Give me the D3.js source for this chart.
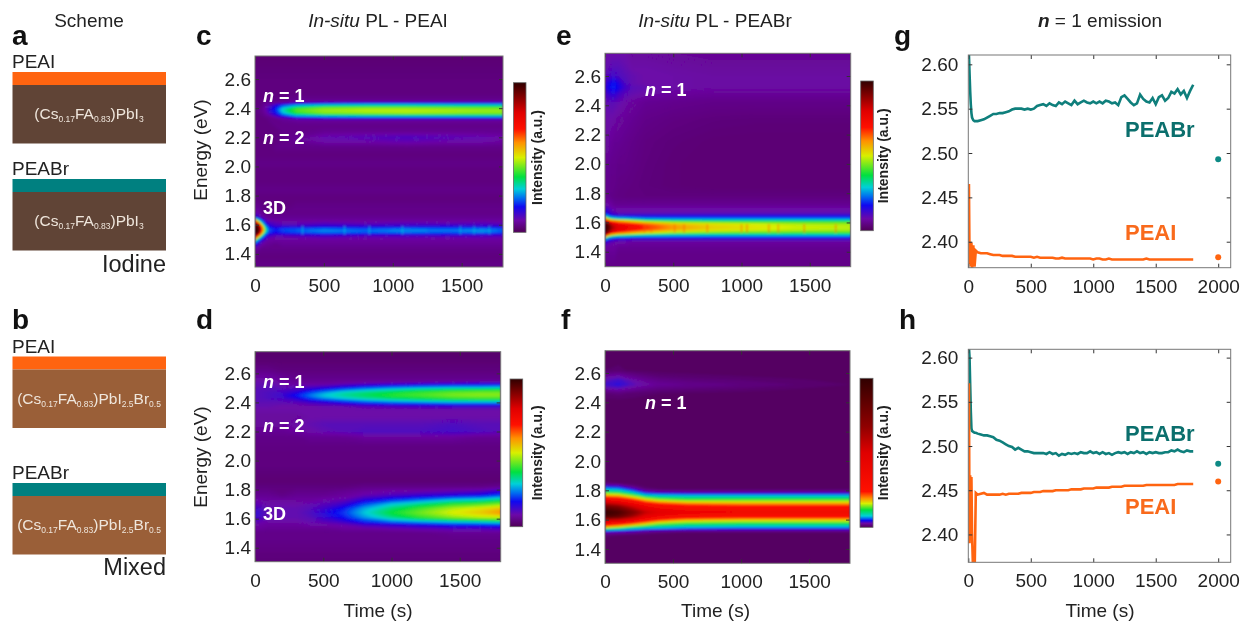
<!DOCTYPE html>
<html>
<head>
<meta charset="utf-8">
<script src="https://cdn.jsdelivr.net/npm/d3@7"></script>
<style>
  html, body { margin: 0; padding: 0; background: #fff; }
  svg { display: block; filter: blur(0.35px); }
  text { font-family: "Liberation Sans", Arial, sans-serif; fill: #222; }
</style>
</head>
<body>
<div id="chart"></div>
<script>
// colour bar positions (percent of bar height) and colours
var barColors = ["#500056","#6c08a8","#1008f0","#0070f0","#00d0d8","#00e040","#d8f000","#ff9000","#ff1000","#e00000","#900000","#300000"];
var barPos  = [0,8,17,23,29,37,50,60,69,80,89,100];
var barPosF = [0,2.7,4.5,6,7.6,11.6,16,19.5,24,50,67.5,100];

// panel c, PEAI on iodine: rows go top to bottom in energy
var cTime = [0,25,50,75,100,150,200,300,500,800,1100,1400,1650,1800];
var cEnergy = [2.76,2.60,2.50,2.45,2.435,2.42,2.40,2.385,2.365,2.35,2.335,2.32,2.28,2.24,2.20,2.17,2.13,2.08,2.02,1.96,1.90,1.84,1.78,1.72,1.68,1.65,1.63,1.61,1.59,1.57,1.55,1.53,1.51,1.49,1.46,1.43,1.38,1.32,1.30];
var cGrid = [
  [3,3,3,3,3,3,3,3,3,3,3,3,3,3],
  [4,4,4,4,4,4,4,4,4,4,4,4,4,4],
  [4,4,4,4,4,4,4,4,4,4,4,4,4,4],
  [4,4,4,5,5,5,5,6,6,6,6,6,6,6],
  [4,4,5,6,6,7,8,11,14,15,15,15,15,15],
  [4,4,5,7,9,14,20,26,30,32,32,31,31,31],
  [4,5,6,8,11,18,29,40,45,46,46,45,44,44],
  [4,5,6,8,12,19,31,43,47,49,49,48,47,47],
  [4,5,5,7,10,16,27,39,45,46,47,46,45,45],
  [4,4,5,6,7,12,18,28,31,33,33,33,33,33],
  [4,4,4,5,5,7,9,14,17,18,18,18,18,18],
  [4,4,4,4,5,5,6,7,7,7,7,7,7,7],
  [4,4,4,4,4,5,5,5,5,5,5,5,5,5],
  [4,4,4,4,4,4,5,5,6,6,6,6,6,6],
  [4,4,4,4,4,4,5,6,9,10,11,10,9,8],
  [4,4,4,4,4,4,5,6,8,8,9,8,8,7],
  [4,4,4,4,4,5,5,5,5,5,5,5,5,5],
  [4,4,4,4,4,4,4,4,4,4,4,4,4,4],
  [5,5,5,5,5,5,5,5,5,5,5,5,5,5],
  [4,4,4,4,4,4,4,4,4,4,4,4,4,4],
  [4,4,4,4,4,4,4,4,4,4,4,4,4,4],
  [5,5,5,5,5,5,5,5,5,5,5,5,5,5],
  [4,4,4,4,4,4,4,4,4,4,4,4,4,4],
  [6,6,5,4,4,4,4,5,5,5,5,5,5,5],
  [9,8,6,5,5,5,5,5,5,5,5,5,5,5],
  [16,13,9,7,6,6,6,6,6,6,6,6,6,6],
  [60,35,20,11,8,7,7,7,7,7,7,7,7,7],
  [92,70,35,16,12,10,9,9,10,9,10,9,10,9],
  [100,95,60,28,16,12,12,12,14,13,13,14,13,13],
  [100,100,70,38,22,18,21,22,24,22,25,23,25,22],
  [100,98,65,34,21,17,20,22,25,23,25,23,26,22],
  [96,75,40,20,13,11,11,12,13,12,12,13,12,12],
  [70,40,22,13,9,8,8,8,9,8,9,8,9,8],
  [35,20,12,9,7,7,7,7,7,7,7,7,7,7],
  [14,10,7,6,6,5,6,6,6,6,6,6,6,6],
  [6,6,5,5,5,5,5,5,5,5,5,5,5,5],
  [4,4,4,4,4,4,4,4,4,4,4,4,4,4],
  [5,5,5,5,5,5,5,5,5,5,5,5,5,5],
  [3,3,3,3,3,3,3,3,3,3,3,3,3,3]
];
var cStreaks = [345,650,830,1070,1490,1590,1700];

// panel d, PEAI on mixed
var dTime = [0,100,200,300,400,500,650,800,1000,1200,1450,1650,1800];
var dEnergy = [2.76,2.68,2.62,2.58,2.55,2.53,2.51,2.49,2.47,2.45,2.43,2.41,2.39,2.375,2.35,2.30,2.25,2.20,2.16,2.10,2.03,1.95,1.86,1.82,1.79,1.76,1.73,1.70,1.67,1.64,1.61,1.58,1.56,1.53,1.50,1.45,1.40,1.36,1.30];
var dGrid = [
  [2,2,2,2,2,2,2,2,2,2,2,2,2],
  [3,3,3,3,3,3,3,3,3,3,3,3,3],
  [5,5,4,4,4,4,4,4,4,4,4,4,4],
  [7,7,6,5,5,5,5,5,5,5,5,5,5],
  [8,8,7,6,6,6,6,6,6,6,6,6,6],
  [9,9,8,7,7,7,8,9,10,11,12,13,13],
  [9,10,9,9,10,11,14,17,20,22,24,24,25],
  [10,10,10,11,14,17,22,26,30,33,35,36,37],
  [10,11,12,14,20,25,31,34,37,40,43,44,44],
  [10,11,13,18,24,29,33,36,40,42,45,46,46],
  [10,11,12,15,21,26,30,33,36,38,41,42,42],
  [10,10,10,11,14,16,21,25,28,30,32,32,32],
  [9,9,9,9,10,11,13,16,18,19,20,20,20],
  [9,9,8,8,8,9,9,10,11,12,13,13,13],
  [8,8,8,8,8,8,8,8,8,8,8,8,8],
  [7,7,7,7,8,8,8,8,8,8,8,8,8],
  [7,7,7,8,9,10,10,10,10,10,11,10,10],
  [6,6,6,7,8,9,10,11,11,11,12,11,10],
  [5,5,5,5,6,6,6,7,7,7,7,6,6],
  [4.5,4.5,4.5,4.5,4.5,4.5,4.5,4.5,4.5,4.5,4.5,4.5,4.5],
  [4,4,4,4,4,4,4,4,4,4,4,4,4],
  [4,4,4,4,4,4,4,4,4,4,4,4,4],
  [3,3,3,3,3,3,3,3,3,3,3,3,3],
  [4,4,4,4,4,4,4,5,5,5,5,5,6],
  [5,5,4,5,5,5,6,7,8,8,9,10,13],
  [6,6,5,6,6,6,7,9,11,13,15,17,21],
  [8,7,7,7,7,8,9,14,19,23,29,31,35],
  [10,8,8,8,9,10,13,21,29,34,40,42,45],
  [12,9,9,9,10,12,18,27,35,41,48,52,56],
  [14,9,9,9,11,14,20,29,38,44,51,55,60],
  [13,9,9,9,10,13,18,26,34,40,46,49,50],
  [10,8,8,8,9,10,13,19,24,27,30,32,34],
  [8,7,7,7,8,8,9,12,14,16,19,20,21],
  [7,6,6,6,6,6,7,7,8,9,10,10,11],
  [5,5,5,5,5,5,5,5,5,5,6,6,6],
  [5,5,5,5,5,5,5,5,5,5,5,5,5],
  [4.5,4.5,4.5,4.5,4.5,4.5,4.5,4.5,4.5,4.5,4.5,4.5,4.5],
  [4,4,4,4,4,4,4,4,4,4,4,4,4],
  [3.5,3.5,3.5,3.5,3.5,3.5,3.5,3.5,3.5,3.5,3.5,3.5,3.5]
];

// panel e, PEABr on iodine
var eTime = [0,25,50,75,100,150,200,300,500,800,1100,1400,1800];
var eEnergy = [2.76,2.66,2.60,2.55,2.52,2.48,2.42,2.30,2.15,2.00,1.85,1.78,1.72,1.69,1.665,1.645,1.625,1.61,1.59,1.57,1.55,1.53,1.515,1.50,1.485,1.465,1.43,1.38,1.30];
var eGrid = [
  [8,8,8,8,8,8,7,7,6.5,6,6,6,6],
  [9,9,10,10,10,9,8,8,7.5,7,7,7,7],
  [10,11,12,12,11,10,9,8,8,7.5,7.5,7.5,7.5],
  [12,15,17,17,15,11,9,8,8,7.5,7.5,7.5,7.5],
  [13,16,18,18,16,12,10,9,8,7.5,7.5,7.5,7.5],
  [11,13,14,14,12,10,9,8,7,6.5,6.5,6.5,6.5],
  [9,9.5,10,9.5,9,8,7,6,5.5,5,5,5,5],
  [8,8,8,7.5,7,6.5,6,5,4.3,3.8,3.6,3.6,3.6],
  [7,7,6.5,6,6,5.5,5,4.2,3.6,3.1,3,3,3],
  [6,6,5.5,5.5,5,5,4.6,4,3.3,3,3,3,3],
  [5.5,5.5,5,5,4.6,4.4,4.2,3.8,3.3,3,3,3,3],
  [5.5,5.5,5,4.6,4.4,4.2,4.1,4,4,4,4,4,4],
  [8,8,7,6,6,6,6,6,6,6,6,6,6],
  [13,11,9,8,8,8,8,8,8,8,8,8,8],
  [18,14,11,10,9,9,9,9,9,9,9,9,9],
  [30,22,17,16,15,15,15,15,15,15,15,15,15],
  [60,45,36,33,31,30,28,25,24,24,24,24,24],
  [85,72,64,62,58,55,50,42,38,36,36,36,36],
  [100,92,82,78,75,73,70,64,56,52,50,48,47],
  [100,97,88,83,80,77,74,68,60,54,52,50,49],
  [100,95,86,81,78,75,72,66,58,53,51,49,48],
  [100,86,74,70,66,62,58,52,46,43,42,41,41],
  [80,60,48,44,40,38,36,32,30,30,30,30,30],
  [50,32,27,24,22,22,20,20,20,19,19,19,19],
  [28,18,15,13,12,12,11,11,11,11,11,11,11],
  [14,10,9,8,8,8,7,7,7,7,7,7,7],
  [8,7,7,7,6,6,6,6,6,6,6,6,6],
  [6,6,6,6,5,5,5,5,5,5,5,5,5],
  [5,5,5,5,5,5,5,5,5,5,5,5,5]
];
var eStreaks = [290,340,510,580,750,1000,1040,1200,1270,1460,1690];

// panel f, PEABr on mixed (its colour bar is stretched, so low values carry decimals)
var fTime = [0,100,200,300,400,600,1000,1400,1800];
var fEnergy = [2.76,2.62,2.58,2.55,2.52,2.49,2.46,2.40,2.10,1.90,1.85,1.83,1.81,1.79,1.77,1.75,1.73,1.71,1.69,1.65,1.62,1.60,1.58,1.56,1.54,1.525,1.51,1.49,1.45,1.30];
var fGrid = [
  [.5,.5,.5,.5,.5,.5,.5,.5,.5],
  [.8,.9,.7,.6,.5,.5,.5,.5,.5],
  [2.4,2.8,2,1.5,1.2,1,.8,.6,.5],
  [3.2,3.8,3,2.2,1.8,1.5,1.2,.9,.6],
  [3.8,4.2,3.4,2.7,2.3,2,1.6,1.2,.8],
  [2.6,3,2.4,1.9,1.6,1.4,1.1,.8,.6],
  [1.2,1.4,1.1,.9,.8,.7,.6,.5,.5],
  [.5,.5,.5,.5,.5,.5,.5,.5,.5],
  [.5,.5,.5,.5,.5,.5,.5,.5,.5],
  [.5,.5,.5,.5,.5,.5,.5,.5,.5],
  [.9,.8,.6,.5,.5,.5,.5,.5,.5],
  [4,3.5,1.5,.7,.5,.5,.5,.5,.5],
  [7,6.5,4,1.2,.8,.7,.7,.7,.7],
  [11,10,7,3.5,2.6,2.3,2.2,2.2,2.2],
  [17,16,12,7,6.5,6,6,6,6],
  [25,23,18,13,11,10,10,10,10],
  [40,35,27,19,16,14,14,14,14],
  [60,52,38,27,23,20,19,19,19],
  [80,72,55,40,32,27,25,25,25],
  [100,93,76,58,50,43,40,40,40],
  [90,82,64,45,36,29,26,26,26],
  [60,56,44,30,24,19,18,18,18],
  [38,34,26,20,16,14,13,13,13],
  [24,20,16,13,11,9.5,9,9,9],
  [13,11,8,7,6.5,5.5,5,5,5],
  [6,5,4.5,3.5,3,2.6,2.4,2.4,2.4],
  [3,2.5,2,1.5,1,.8,.8,.8,.8],
  [1,.8,.6,.5,.5,.5,.5,.5,.5],
  [.5,.5,.5,.5,.5,.5,.5,.5,.5],
  [.5,.5,.5,.5,.5,.5,.5,.5,.5]
];

// panels g and h, n = 1 peak position against time
var lineTime = [1,5,10,15,20,25,30,40,50,60,
  75,100,125,150,175,200,225,250,275,300,
  325,350,375,400,425,450,475,500,525,550,
  575,600,625,650,675,700,725,750,775,800,
  825,850,875,900,925,950,975,1000,1025,1050,
  1075,1100,1125,1150,1175,1200,1225,1250,1275,1300,
  1325,1350,1375,1400,1425,1450,1475,1500,1525,1550,
  1575,1600,1625,1650,1675,1700,1725,1750,1775,1800];
var gBr = [2.611,2.611,2.59,2.57,2.555,2.545,2.54,2.537,2.536,2.536,
  2.536,2.537,2.538,2.54,2.542,2.544,2.544,2.545,2.545,2.546,
  2.547,2.549,2.55,2.55,2.55,2.549,2.55,2.549,2.55,2.553,
  2.554,2.555,2.553,2.556,2.554,2.553,2.557,2.555,2.558,2.556,
  2.554,2.559,2.555,2.557,2.559,2.557,2.556,2.558,2.556,2.558,
  2.556,2.559,2.558,2.556,2.557,2.554,2.563,2.565,2.561,2.557,
  2.554,2.556,2.566,2.561,2.558,2.557,2.562,2.555,2.563,2.565,
  2.559,2.562,2.569,2.567,2.572,2.566,2.57,2.562,2.57,2.577];
var gI = [2.40,2.465,2.375,2.40,2.372,2.399,2.37,2.396,2.372,2.39,
  2.388,2.387,2.387,2.387,2.386,2.385,2.385,2.385,2.384,2.384,
  2.384,2.384,2.383,2.383,2.383,2.383,2.383,2.383,2.382,2.383,
  2.382,2.382,2.382,2.382,2.382,2.381,2.381,2.382,2.381,2.381,
  2.381,2.381,2.381,2.381,2.381,2.381,2.381,2.38,2.381,2.381,
  2.38,2.38,2.381,2.38,2.38,2.38,2.38,2.38,2.38,2.38,
  2.38,2.38,2.38,2.38,2.381,2.38,2.38,2.38,2.38,2.38,
  2.38,2.38,2.38,2.38,2.38,2.38,2.38,2.38,2.38,2.38];
var hBr = [2.612,2.612,2.60,2.57,2.54,2.52,2.517,2.516,2.515,2.515,
  2.514,2.513,2.512,2.512,2.511,2.51,2.507,2.506,2.504,2.502,
  2.5,2.499,2.496,2.498,2.496,2.494,2.494,2.493,2.492,2.492,
  2.492,2.492,2.491,2.493,2.491,2.492,2.489,2.491,2.49,2.492,
  2.491,2.492,2.491,2.493,2.492,2.492,2.494,2.492,2.493,2.491,
  2.493,2.491,2.492,2.49,2.492,2.493,2.492,2.493,2.491,2.493,
  2.492,2.494,2.492,2.493,2.491,2.493,2.492,2.493,2.492,2.492,
  2.493,2.493,2.495,2.494,2.496,2.494,2.493,2.495,2.494,2.494];
var hI = [2.39,2.571,2.39,2.467,2.41,2.465,2.40,2.35,2.35,2.447,
  2.445,2.446,2.447,2.445,2.445,2.445,2.445,2.445,2.446,2.445,
  2.446,2.446,2.446,2.446,2.447,2.447,2.447,2.447,2.448,2.448,
  2.448,2.449,2.449,2.449,2.449,2.45,2.45,2.45,2.45,2.45,
  2.451,2.451,2.451,2.451,2.452,2.452,2.452,2.452,2.453,2.453,
  2.453,2.453,2.453,2.454,2.454,2.454,2.454,2.455,2.455,2.455,
  2.455,2.455,2.455,2.455,2.456,2.456,2.456,2.456,2.456,2.456,
  2.456,2.456,2.456,2.456,2.457,2.457,2.457,2.457,2.457,2.457];
var dotTime = 2000;
var gDots = [2.493, 2.3825];
var hDots = [2.48, 2.46];

var heatTicksX = [0,500,1000,1500];
var heatTicksY = [1.4,1.6,1.8,2.0,2.2,2.4,2.6];
var lineTicksX = [0,500,1000,1500,2000];
var lineTicksY = [2.40,2.45,2.50,2.55,2.60];

var teal = "#0f7f7c", orange = "#ff6410";

var svg = d3.select("#chart").append("svg").attr("width", 1248).attr("height", 621);
var defs = svg.append("defs");
defs.append("filter").attr("id", "soft").attr("x", "-5%").attr("y", "-5%").attr("width", "110%").attr("height", "110%")
  .append("feGaussianBlur").attr("stdDeviation", 0.8);

// plain text with mixed styling, parts are [string, style]
function richText(x, y, anchor, size, parts, fill) {
  var t = svg.append("text").attr("x", x).attr("y", y).attr("text-anchor", anchor)
    .style("font-size", size + "px");
  if (fill) t.style("fill", fill);
  parts.forEach(function(p) {
    var s = t.append("tspan").text(p[0]);
    if (p[1] === "i") s.style("font-style", "italic");
    if (p[1] === "b") s.style("font-weight", "bold");
    if (p[1] === "bi") s.style("font-weight", "bold").style("font-style", "italic");
    if (fill) s.style("fill", fill);
    if (p[1] === "sub") s.style("font-size", "8.5px").attr("dy", 3);
    if (p[1] === "up") s.attr("dy", -3);
  });
  return t;
}

function styleAxis(g) {
  g.select(".domain").remove();
  g.selectAll("line").attr("stroke", "#333").attr("stroke-width", 1);
  g.selectAll("text").style("font-size", "19px").style("fill", "#222");
}

// four sided frame with inward ticks
function frame(box, x, y, ticksX, ticksY, fmt, padY) {
  var g = svg.append("g");
  g.append("g").attr("transform", `translate(0,${box.y1})`)
    .call(d3.axisBottom(x).tickValues(ticksX).tickSizeInner(-4).tickSizeOuter(0).tickPadding(11.5).tickFormat(d3.format("d"))).call(styleAxis);
  g.append("g").attr("transform", `translate(0,${box.y0})`)
    .call(d3.axisTop(x).tickValues(ticksX).tickSizeInner(-4).tickSizeOuter(0).tickFormat("")).call(styleAxis);
  g.append("g").attr("transform", `translate(${box.x0},0)`)
    .call(d3.axisLeft(y).tickValues(ticksY).tickSizeInner(-4).tickSizeOuter(0).tickPadding(padY).tickFormat(d3.format(fmt))).call(styleAxis);
  g.append("g").attr("transform", `translate(${box.x1},0)`)
    .call(d3.axisRight(y).tickValues(ticksY).tickSizeInner(-4).tickSizeOuter(0).tickFormat("")).call(styleAxis);
  g.append("rect").attr("x", box.x0).attr("y", box.y0).attr("width", box.x1 - box.x0).attr("height", box.y1 - box.y0)
    .attr("fill", "none").attr("stroke", "#777").attr("stroke-width", 1);
}

function drawHeat(p) {
  var x = d3.scaleLinear().domain([0, 1800]).range([p.box.x0, p.box.x1]);
  var y = d3.scaleLinear().domain(p.yDomain).range([p.box.y1, p.box.y0]);
  var color = d3.scaleLinear().domain(p.pos).range(barColors).clamp(true);
  var rows = p.grid.length, cols = p.time.length;

  // grid index to data value, the grid is not evenly spaced
  var timeAt = d3.scaleLinear().domain(p.time.map((d, i) => i + 0.5)).range(p.time).clamp(true);
  var energyAt = d3.scaleLinear().domain(p.energy.map((d, i) => i + 0.5)).range(p.energy).clamp(true);
  var path = d3.geoPath(d3.geoTransform({
    point: function(a, b) { this.stream.point(x(timeAt(a)), y(energyAt(b))); }
  }));

  var contours = d3.contours().size([cols, rows]).thresholds(p.levels)(p.grid.flat());

  defs.append("clipPath").attr("id", "clip-" + p.name).append("rect")
    .attr("x", p.box.x0).attr("y", p.box.y0).attr("width", p.box.x1 - p.box.x0).attr("height", p.box.y1 - p.box.y0);
  var holder = svg.append("g").attr("clip-path", `url(#clip-${p.name})`);
  holder.append("rect").attr("x", p.box.x0).attr("y", p.box.y0).attr("width", p.box.x1 - p.box.x0).attr("height", p.box.y1 - p.box.y0)
    .attr("fill", color(d3.min(p.grid.flat())));
  var soft = holder.append("g").attr("filter", "url(#soft)");
  soft.selectAll("path").data(contours).enter().append("path")
    .attr("d", path).attr("fill", d => color(d.value)).attr("stroke", "none");
  if (p.streaks) {
    soft.selectAll("line").data(p.streaks).enter().append("line")
      .attr("x1", d => x(d)).attr("x2", d => x(d))
      .attr("y1", y(p.streakSpan[0])).attr("y2", y(p.streakSpan[1]))
      .attr("stroke", color(p.streakValue)).attr("stroke-width", 1.2).attr("opacity", 0.7);
  }
  frame(p.box, x, y, heatTicksX, heatTicksY, ".1f", 4);

  // colour bar
  var gradId = "bar-" + p.name;
  var grad = defs.append("linearGradient").attr("id", gradId).attr("x1", 0).attr("x2", 0).attr("y1", 1).attr("y2", 0);
  p.pos.forEach(function(d, i) {
    grad.append("stop").attr("offset", d + "%").attr("stop-color", barColors[i]);
  });
  svg.append("rect").attr("x", p.bar.x0).attr("y", p.bar.y0).attr("width", p.bar.x1 - p.bar.x0).attr("height", p.bar.y1 - p.bar.y0)
    .attr("fill", `url(#${gradId})`).attr("stroke", "#666").attr("stroke-width", 0.8);
  svg.append("text").attr("transform", `translate(${p.bar.labelX},${(p.bar.y0 + p.bar.y1) / 2}) rotate(-90)`)
    .attr("text-anchor", "middle").style("font-size", "14px").style("font-weight", "bold").style("fill", "#222").text("Intensity (a.u.)");
}

var fineLevels = d3.range(0, 20, 0.25).concat(d3.range(20, 100, 1));
var fLevels = d3.range(0, 30, 0.4).concat(d3.range(30, 100, 2));

drawHeat({name: "c", time: cTime, energy: cEnergy, grid: cGrid, pos: barPos, levels: fineLevels,
  box: {x0: 255, x1: 503, y0: 56, y1: 267}, yDomain: [1.31, 2.758],
  bar: {x0: 513.5, x1: 526, y0: 82.7, y1: 232.3, labelX: 542},
  streaks: cStreaks, streakSpan: [1.535, 1.59], streakValue: 28});
drawHeat({name: "d", time: dTime, energy: dEnergy, grid: dGrid, pos: barPos, levels: fineLevels,
  box: {x0: 255, x1: 500.7, y0: 351.7, y1: 561.7}, yDomain: [1.304, 2.749],
  bar: {x0: 510, x1: 522.7, y0: 379, y1: 526.7, labelX: 542}});
drawHeat({name: "e", time: eTime, energy: eEnergy, grid: eGrid, pos: barPos, levels: fineLevels,
  box: {x0: 605, x1: 850.7, y0: 53.3, y1: 266.7}, yDomain: [1.298, 2.755],
  bar: {x0: 860.7, x1: 873.3, y0: 81, y1: 230.7, labelX: 888},
  streaks: eStreaks, streakSpan: [1.53, 1.59], streakValue: 64});
drawHeat({name: "f", time: fTime, energy: fEnergy, grid: fGrid, pos: barPosF, levels: fLevels,
  box: {x0: 605, x1: 850, y0: 350.7, y1: 563.3}, yDomain: [1.302, 2.752],
  bar: {x0: 860, x1: 873, y0: 378.3, y1: 527.3, labelX: 888}});

function drawLines(p) {
  var x = d3.scaleLinear().domain([0, 2100]).range([p.box.x0, p.box.x1]);
  var y = d3.scaleLinear().domain(p.yDomain).range([p.box.y1, p.box.y0]);
  var line = d3.line().x(d => x(d[0])).y(d => y(d[1]));
  defs.append("clipPath").attr("id", "clip-" + p.name).append("rect")
    .attr("x", p.box.x0).attr("y", p.box.y0).attr("width", p.box.x1 - p.box.x0).attr("height", p.box.y1 - p.box.y0);
  var holder = svg.append("g").attr("clip-path", `url(#clip-${p.name})`);
  holder.append("path").datum(d3.zip(lineTime, p.br)).attr("d", line).attr("fill", "none").attr("stroke", teal).attr("stroke-width", 2.6);
  holder.append("path").datum(d3.zip(lineTime, p.i)).attr("d", line).attr("fill", "none").attr("stroke", orange).attr("stroke-width", 2.6);
  holder.selectAll("circle").data(p.dots).enter().append("circle")
    .attr("cx", x(dotTime)).attr("cy", d => y(d)).attr("r", 3)
    .attr("fill", (d, i) => i === 0 ? "#0d8a85" : orange);
  frame(p.box, x, y, lineTicksX, lineTicksY, ".2f", 10);
}

drawLines({name: "g", br: gBr, i: gI, dots: gDots, box: {x0: 968.3, x1: 1230.7, y0: 55, y1: 267.7}, yDomain: [2.3707, 2.6105]});
drawLines({name: "h", br: hBr, i: hI, dots: hDots, box: {x0: 968.3, x1: 1230.7, y0: 349.3, y1: 562.3}, yDomain: [2.3685, 2.6094]});

// panel letters
[["a",12,45],["b",12,329],["c",196,45],["d",196,329],["e",556,45],["f",561,329],["g",894,45],["h",899,329]].forEach(function(d) {
  richText(d[1], d[2], "start", 28, [[d[0], "b"]], "#111");
});

// column titles and axis titles
richText(89, 27, "middle", 19, [["Scheme", ""]]);
richText(378, 27, "middle", 19, [["In-situ", "i"], [" PL - PEAI", ""]]);
richText(715, 27, "middle", 19, [["In-situ", "i"], [" PL - PEABr", ""]]);
richText(1100, 27, "middle", 19, [["n", "bi"], [" = 1 emission", ""]]);
richText(378, 617, "middle", 19, [["Time (s)", ""]]);
richText(715.5, 617, "middle", 19, [["Time (s)", ""]]);
richText(1100, 617, "middle", 19, [["Time (s)", ""]]);
[[207, 150], [207, 457]].forEach(function(d) {
  svg.append("text").attr("transform", `translate(${d[0]},${d[1]}) rotate(-90)`).attr("text-anchor", "middle")
    .style("font-size", "19px").text("Energy (eV)");
});

// labels inside the maps
function nLabel(x, y, n) { richText(x, y, "start", 18, [["n", "bi"], [" = " + n, "b"]], "#fff"); }
nLabel(263, 101.5, 1); nLabel(263, 144, 2);
richText(263, 214, "start", 18, [["3D", "b"]], "#fff");
nLabel(263, 388, 1); nLabel(263, 432, 2);
richText(263, 520, "start", 18, [["3D", "b"]], "#fff");
nLabel(645, 96, 1); nLabel(645, 409, 1);

// series labels in g and h
richText(1125, 137, "start", 22, [["PEABr", "b"]], "#0b6f6d");
richText(1125, 239.5, "start", 22, [["PEAI", "b"]], "#f96a1c");
richText(1125, 441, "start", 22, [["PEABr", "b"]], "#0b6f6d");
richText(1125, 513.5, "start", 22, [["PEAI", "b"]], "#f96a1c");

// scheme stacks on the left
var iodine = "#604436", mixed = "#9a5f38";
var iodineFormula = [["(Cs",""],["0.17","sub"],["FA","up"],["0.83","sub"],[")PbI","up"],["3","sub"]];
var mixedFormula = [["(Cs",""],["0.17","sub"],["FA","up"],["0.83","sub"],[")PbI","up"],["2.5","sub"],["Br","up"],["0.5","sub"]];
var stacks = [
  {label: "PEAI", top: orange, body: iodine, text: iodineFormula, y: 72, labelY: 68},
  {label: "PEABr", top: "#008080", body: iodine, text: iodineFormula, y: 179, labelY: 175},
  {label: "PEAI", top: orange, body: mixed, text: mixedFormula, y: 356.5, labelY: 352.5},
  {label: "PEABr", top: "#008080", body: mixed, text: mixedFormula, y: 483, labelY: 479}
];
stacks.forEach(function(s) {
  richText(12, s.labelY, "start", 19, [[s.label, ""]]);
  svg.append("rect").attr("x", 12.5).attr("y", s.y).attr("width", 153.5).attr("height", 13).attr("fill", s.top);
  svg.append("rect").attr("x", 12.5).attr("y", s.y + 13).attr("width", 153.5).attr("height", 58.5).attr("fill", s.body);
  richText(89, s.y + 47, "middle", 15.5, s.text, "#efe6dc");
});
richText(166, 271.5, "end", 23.5, [["Iodine", ""]]);
richText(166, 575, "end", 23.5, [["Mixed", ""]]);
</script>
</body>
</html>
